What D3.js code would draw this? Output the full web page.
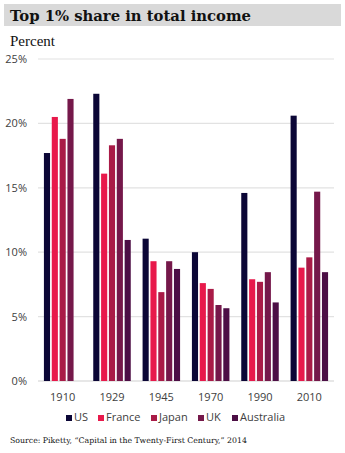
<!DOCTYPE html>
<html>
<head>
<meta charset="utf-8">
<script src="https://cdn.jsdelivr.net/npm/d3@7"></script>
<style>
  body { margin: 0; background: #fff; }
  svg { display: block; }
</style>
</head>
<body>
<svg id="chart" width="345" height="453"></svg>
<script>
// data
const years = ['1910', '1929', '1945', '1970', '1990', '2010'];
const countries = ['US', 'France', 'Japan', 'UK', 'Australia'];
const US        = [17.7, 22.3, 11.05, 10.0, 14.6, 20.6];
const France    = [20.5, 16.1, 9.3, 7.6, 7.9, 8.8];
const Japan     = [18.8, 18.3, 6.9, 7.15, 7.7, 9.6];
const UK        = [21.9, 18.8, 9.3, 5.9, 8.45, 14.7];
const Australia = [null, 10.95, 8.7, 5.65, 6.1, 8.45];
const yTicks = [0, 5, 10, 15, 20, 25];

const series = [US, France, Japan, UK, Australia];
const colors = ['#0b0636', '#e8194b', '#a91b47', '#75184a', '#4c0e45'];

const svg = d3.select('#chart');
const sans = "'Open Sans', 'Liberation Sans', sans-serif";
const serif = "'DejaVu Serif', Georgia, serif";

// title bar
svg.append('rect')
  .attr('x', 4).attr('y', 4)
  .attr('width', 337).attr('height', 22)
  .style('fill', '#d9d9d9');

svg.append('text')
  .text('Top 1% share in total income')
  .attr('x', 10).attr('y', 21)
  .style('font-family', serif)
  .style('font-weight', 'bold')
  .style('font-size', '14.8px')
  .style('fill', '#111');

svg.append('text')
  .text('Percent')
  .attr('x', 10).attr('y', 46)
  .style('font-family', "'Liberation Serif', 'Times New Roman', serif")
  .style('font-size', '15px')
  .style('fill', '#111');

const margin = {left: 38, right: 11, top: 59, bottom: 72};
const width = 345 - margin.left - margin.right,
      height = 453 - margin.top - margin.bottom;

const g = svg.append('g')
  .attr('transform', `translate(${margin.left}, ${margin.top})`);

const y = d3.scaleLinear().domain([0, 25]).range([height, 0]);
const x0 = d3.scaleBand().domain(years).range([0, width]).paddingInner(0.24).paddingOuter(0.12);
const x1 = d3.scaleBand().domain(countries).range([0, x0.bandwidth()]).paddingInner(0.22);

// gridlines + y labels
g.selectAll('line.grid')
  .data(yTicks)
  .enter()
  .append('line')
    .attr('class', 'grid')
    .attr('x1', 0).attr('x2', width)
    .attr('y1', d => y(d)).attr('y2', d => y(d))
    .style('stroke', d => d === 0 ? '#d0d0d0' : '#e2e2e2')
    .style('stroke-width', 1.2);

g.selectAll('text.ylab')
  .data(yTicks)
  .enter()
  .append('text')
    .attr('class', 'ylab')
    .attr('x', -11)
    .attr('y', d => y(d) + 4)
    .text(d => d + '%')
    .style('text-anchor', 'end')
    .style('font-family', sans)
    .style('font-size', '11px')
    .style('fill', '#404040');

// bars
const groups = g.selectAll('g.year')
  .data(years)
  .enter()
  .append('g')
    .attr('class', 'year')
    .attr('transform', d => `translate(${x0(d)}, 0)`);

groups.selectAll('rect')
  .data((d, i) => countries.map((c, j) => ({c: c, v: series[j][i], col: colors[j]})))
  .enter()
  .filter(d => d.v != null)
  .append('rect')
    .attr('x', d => x1(d.c))
    .attr('y', d => y(d.v))
    .attr('width', x1.bandwidth())
    .attr('height', d => height - y(d.v))
    .style('fill', d => d.col);

// x labels
g.selectAll('text.xlab')
  .data(years)
  .enter()
  .append('text')
    .attr('class', 'xlab')
    .attr('x', d => x0(d) + x0.bandwidth() / 2)
    .attr('y', height + 20)
    .text(d => d)
    .style('text-anchor', 'middle')
    .style('font-family', sans)
    .style('font-size', '11px')
    .style('fill', '#404040');

// legend
const legendX = [66, 98, 151, 198, 232];
const legend = svg.selectAll('g.legend')
  .data(countries)
  .enter()
  .append('g')
    .attr('class', 'legend')
    .attr('transform', (d, i) => `translate(${legendX[i]}, 421)`);

legend.append('rect')
  .attr('x', 0).attr('y', -6)
  .attr('width', 6).attr('height', 6)
  .style('fill', (d, i) => colors[i]);

legend.append('text')
  .attr('x', 8).attr('y', 0)
  .text(d => d)
  .style('font-family', sans)
  .style('font-size', '11px')
  .style('fill', '#404040');

// source
svg.append('text')
  .text('Source: Piketty, \u201cCapital in the Twenty-First Century,\u201d 2014')
  .attr('x', 10).attr('y', 443)
  .style('font-family', serif)
  .style('font-size', '7.8px')
  .style('fill', '#111');
</script>
</body>
</html>
